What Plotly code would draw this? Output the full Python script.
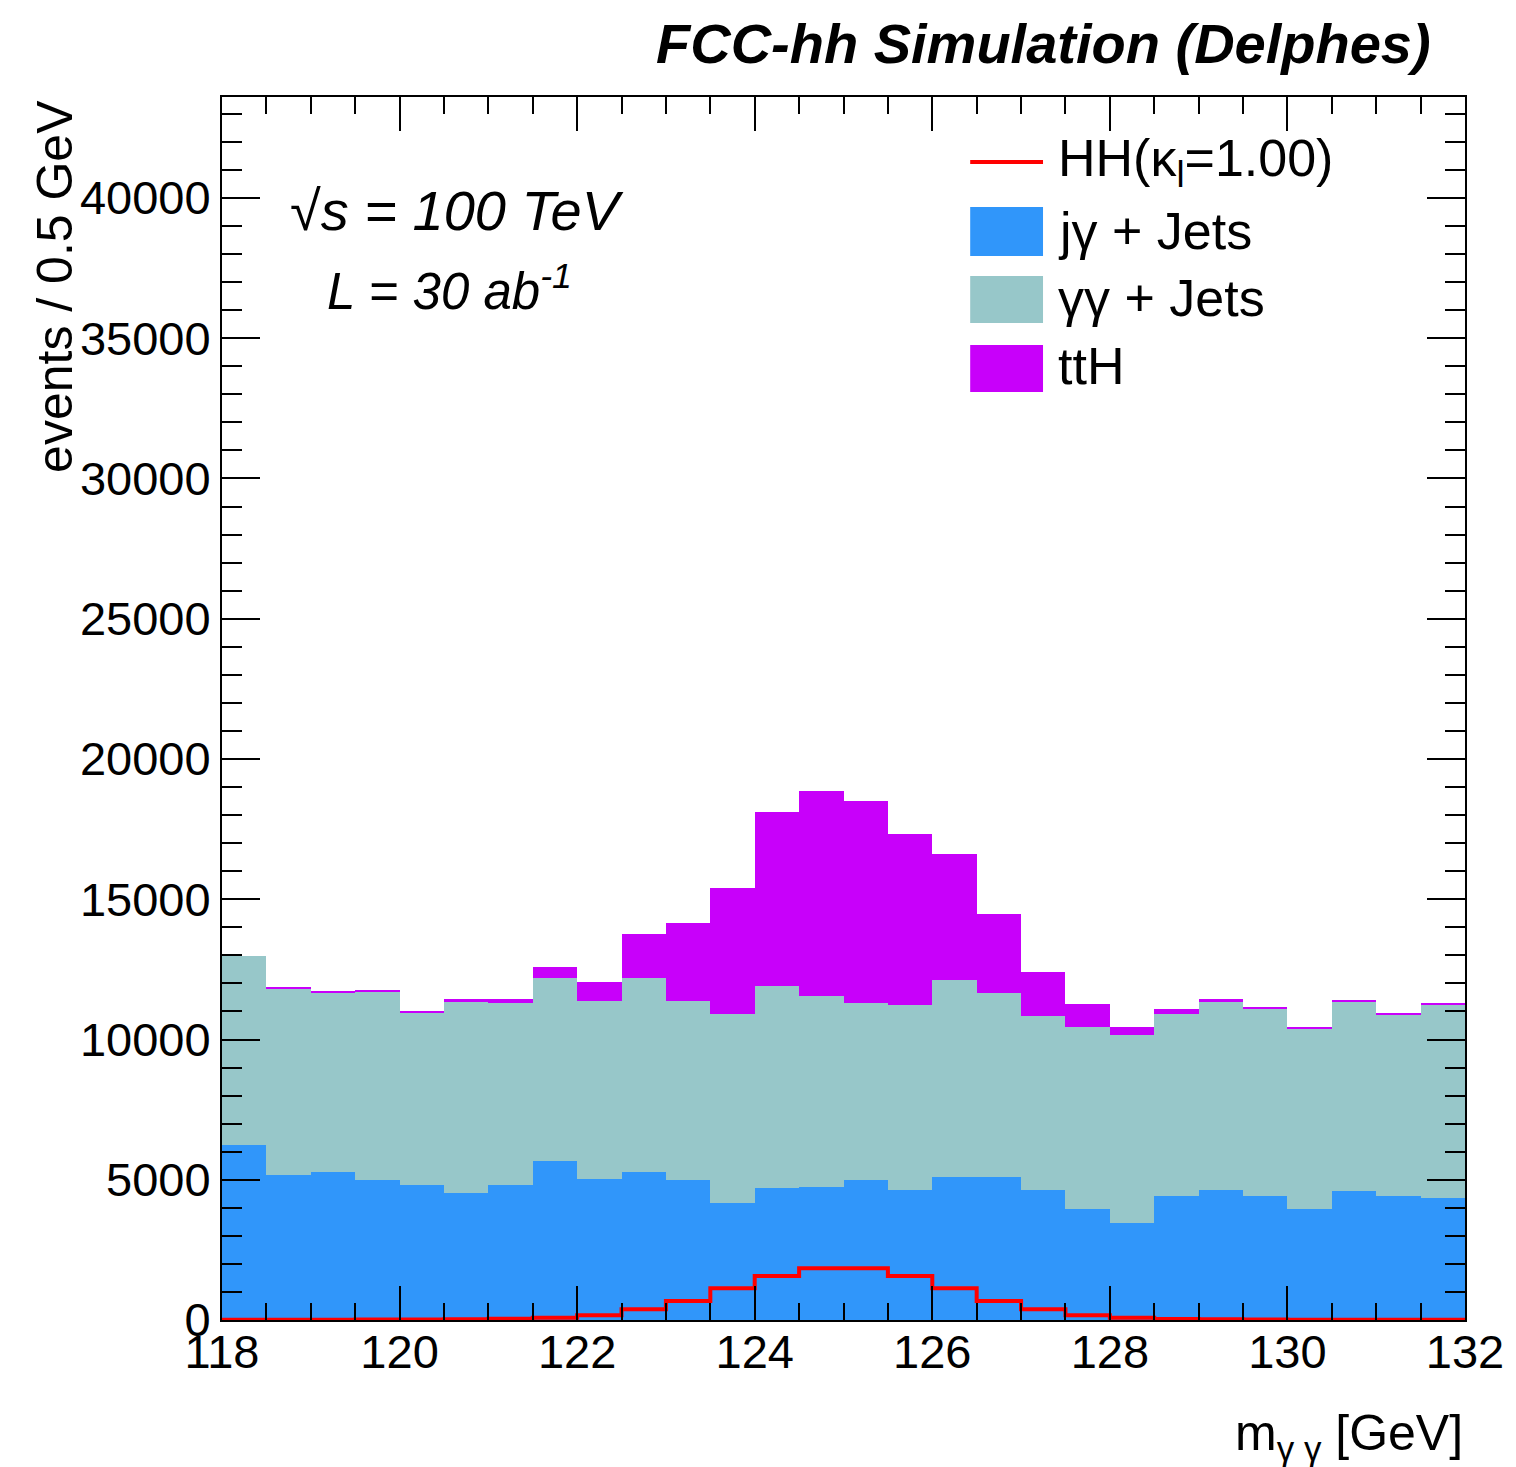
import plotly.graph_objects as go

# ---------------- data ----------------
bin_low = [118 + 0.5 * i for i in range(28)]
bin_edges_last = 132.0

jgamma = [6240, 5170, 5290, 4990, 4810, 4540, 4810, 5670, 5010, 5290, 4990, 4160, 4720, 4750,
          4990, 4630, 5090, 5090, 4630, 3940, 3450, 4420, 4630, 4420, 3940, 4610, 4420, 4340]
gamgam = [6730, 6650, 6380, 6710, 6160, 6810, 6500, 6540, 6370, 6920, 6390, 6740, 7180, 6800,
          6300, 6600, 7030, 6580, 6220, 6510, 6710, 6490, 6720, 6690, 6460, 6760, 6480, 6910]
tth = [0, 20, 30, 60, 40, 80, 150, 380, 680, 1545, 2780, 4490, 6210, 7320,
       7220, 6080, 4490, 2790, 1570, 830, 300, 180, 110, 60, 50, 30, 20, 20]
hh = [5, 8, 10, 15, 20, 30, 45, 83, 166, 380, 677, 1128, 1568, 1841,
      1841, 1568, 1128, 677, 380, 166, 83, 40, 25, 15, 10, 8, 5, 5]

x_ticks = [118, 120, 122, 124, 126, 128, 130, 132]
y_ticks = [0, 5000, 10000, 15000, 20000, 25000, 30000, 35000, 40000]

legend_labels = ["HH(κ<sub>l</sub>=1.00)", "jγ + Jets", "γγ + Jets", "ttH"]

C_BLUE = "#3096FA"
C_TEAL = "#97C7C9"
C_PURP = "#C800FA"
C_RED = "#FF0000"

W, H = 1516, 1467
L, R, T, B = 222, 1468, 97, 1320


def px(x):
    return (x - L) / (R - L)


def py(y):
    return (B - y) / (B - T)


FONT = "Liberation Sans, Arial, Helvetica, sans-serif"

fig = go.Figure()
centers = [b + 0.25 for b in bin_low]
for vals, col, name in [(jgamma, C_BLUE, "jγ + Jets"), (gamgam, C_TEAL, "γγ + Jets"), (tth, C_PURP, "ttH")]:
    fig.add_trace(go.Bar(x=centers, y=vals, width=0.5, marker=dict(color=col, line=dict(width=0)),
                         name=name, showlegend=False))

step_x = bin_low + [bin_edges_last]
step_y = hh + [hh[-1]]
fig.add_trace(go.Scatter(x=step_x, y=step_y, mode="lines", line=dict(color=C_RED, width=4, shape="hv"),
                         name="HH", showlegend=False))

axis_common = dict(showline=True, linecolor="black", linewidth=2, mirror="ticks", ticks="inside",
                   tickcolor="black", tickwidth=2, showgrid=False, zeroline=False,
                   tickfont=dict(family=FONT, size=47, color="black"))

fig.update_layout(
    width=W, height=H,
    margin=dict(l=L, r=W - R, t=T, b=H - B),
    plot_bgcolor="white", paper_bgcolor="white",
    barmode="stack", bargap=0,
    xaxis=dict(range=[118, 132], tickvals=x_ticks, ticktext=[str(v) for v in x_ticks], ticklen=34,
               ticklabelstandoff=-10,
               minor=dict(dtick=0.5, tick0=118, ticklen=17, tickwidth=2, tickcolor="black", ticks="inside"),
               **axis_common),
    yaxis=dict(range=[0, 43600], tickvals=y_ticks, ticktext=[str(v) for v in y_ticks], ticklen=38,
               ticklabelstandoff=0,
               minor=dict(dtick=1000, tick0=0, ticklen=20, tickwidth=2, tickcolor="black", ticks="inside"),
               **axis_common),
)

annotations = []
# title
annotations.append(dict(xref="paper", yref="paper", x=px(1436), y=py(44), xanchor="right", yanchor="middle",
                        text="<b><i>FCC-hh Simulation (Delphes)</i></b>", showarrow=False,
                        font=dict(family=FONT, size=56, color="black")))
# y title
annotations.append(dict(xref="paper", yref="paper", x=px(54), y=py(98), xanchor="center", yanchor="top",
                        text="events / 0.5 GeV", textangle=-90, showarrow=False,
                        font=dict(family=FONT, size=50, color="black")))
# x title
annotations.append(dict(xref="paper", yref="paper", x=px(1468), y=py(1436), xanchor="right", yanchor="middle",
                        text="m<sub>γ γ</sub> [GeV]", showarrow=False,
                        font=dict(family=FONT, size=50, color="black")))
# energy / lumi
annotations.append(dict(xref="paper", yref="paper", x=px(458), y=py(210), xanchor="center", yanchor="middle",
                        text="<i>√s = 100 TeV</i>", showarrow=False,
                        font=dict(family=FONT, size=56, color="black")))
annotations.append(dict(xref="paper", yref="paper", x=px(450), y=py(288), xanchor="center", yanchor="middle",
                        text="<i>L = 30 ab<sup>-1</sup></i>", showarrow=False,
                        font=dict(family=FONT, size=51, color="black")))

# custom legend
shapes = []
shapes.append(dict(type="line", xref="paper", yref="paper", x0=px(972), x1=px(1045), y0=py(162), y1=py(162),
                   line=dict(color=C_RED, width=4)))
for (y0, y1), col in [((207, 256), C_BLUE), ((276, 323), C_TEAL), ((345, 392), C_PURP)]:
    shapes.append(dict(type="rect", xref="paper", yref="paper", x0=px(972), x1=px(1045), y0=py(y1), y1=py(y0),
                       fillcolor=col, line=dict(width=0)))
for lab, yc in zip(legend_labels, [162, 231, 298, 366]):
    annotations.append(dict(xref="paper", yref="paper", x=px(1058), y=py(yc), xanchor="left", yanchor="middle",
                            text=lab, showarrow=False, font=dict(family=FONT, size=52, color="black")))

fig.update_layout(annotations=annotations, shapes=shapes)
fig.write_html("out.html")
